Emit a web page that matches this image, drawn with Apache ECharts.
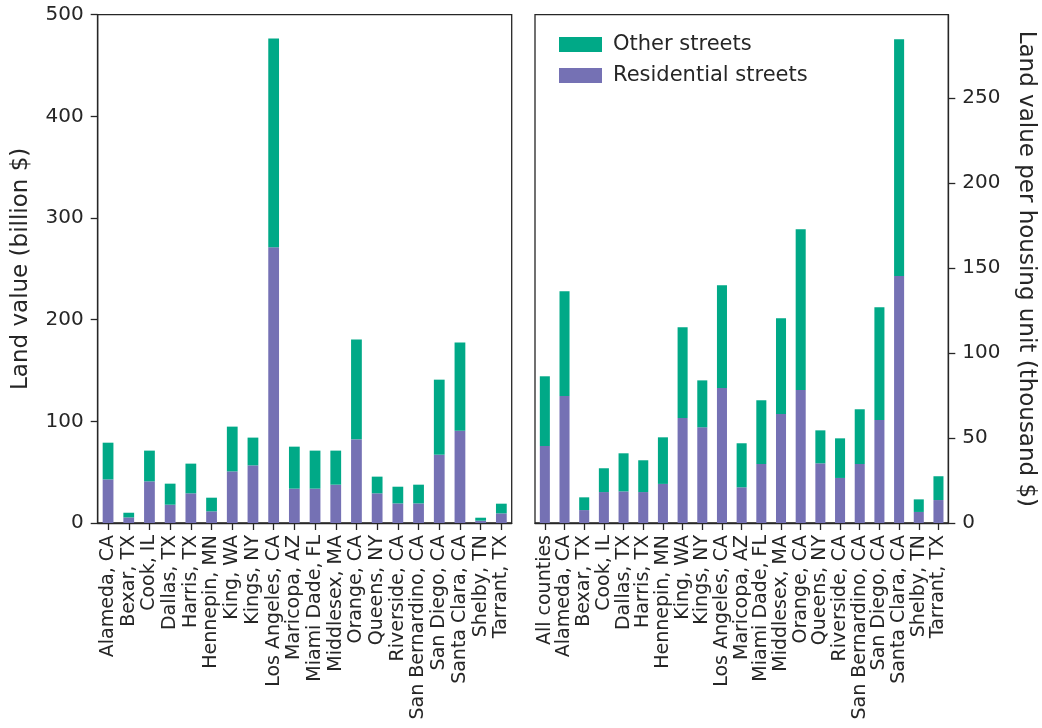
<!DOCTYPE html>
<html>
<head>
<meta charset="utf-8">
<script src="https://cdn.jsdelivr.net/npm/echarts@6/dist/echarts.min.js"></script>
<style>
html,body{margin:0;padding:0;background:#fff;}
#chart{width:1042px;height:728px;}
</style>
</head>
<body>
<div id="chart"></div>
<script>
// Left panel: total land value (billion $)
const leftCategories = ["Alameda, CA","Bexar, TX","Cook, IL","Dallas, TX","Harris, TX","Hennepin, MN","King, WA","Kings, NY","Los Angeles, CA","Maricopa, AZ","Miami Dade, FL","Middlesex, MA","Orange, CA","Queens, NY","Riverside, CA","San Bernardino, CA","San Diego, CA","Santa Clara, CA","Shelby, TN","Tarrant, TX"];
const leftResidential = [42.9, 5.5, 41, 18, 29.2, 11.5, 50.8, 56.7, 271.3, 33.8, 33.8, 37.7, 82.3, 29.2, 19.3, 19.3, 67.2, 90.8, 2.3, 9.5];
const leftTotal = [79, 10.1, 71.2, 38.7, 58.4, 24.9, 94.8, 84, 476.7, 75.1, 71.2, 71.2, 180.4, 45.6, 35.7, 37.7, 141, 177.5, 5.2, 19];

// Right panel: land value per housing unit (thousand $)
const rightCategories = ["All counties","Alameda, CA","Bexar, TX","Cook, IL","Dallas, TX","Harris, TX","Hennepin, MN","King, WA","Kings, NY","Los Angeles, CA","Maricopa, AZ","Miami Dade, FL","Middlesex, MA","Orange, CA","Queens, NY","Riverside, CA","San Bernardino, CA","San Diego, CA","Santa Clara, CA","Shelby, TN","Tarrant, TX"];
const rightResidential = [45.3, 74.7, 7.6, 18.2, 18.6, 18.2, 23, 61.8, 56.3, 79.4, 21, 34.7, 64.1, 78.2, 35.1, 26.5, 34.7, 60.6, 145.3, 6.5, 13.5];
const rightTotal = [86.3, 136.3, 15.1, 32.2, 41, 36.9, 50.4, 115.1, 83.9, 139.8, 46.9, 72.2, 120.4, 172.8, 54.5, 49.8, 66.9, 126.9, 284.5, 13.9, 27.5];

const leftTicks = [0, 100, 200, 300, 400, 500];
const rightTicks = [0, 50, 100, 150, 200, 250];

const seriesNames = ["Other streets", "Residential streets"];
const colOther = "#00a987";
const colRes = "#7571b4";
const dark = "#262626";
const font = "DejaVu Sans";

const leftOther = leftTotal.map((t, i) => +(t - leftResidential[i]).toFixed(2));
const rightOther = rightTotal.map((t, i) => +(t - rightResidential[i]).toFixed(2));

const chart = echarts.init(document.getElementById('chart'), null, {renderer: 'canvas'});

function xAxisCfg(idx, cats) {
  return {
    type: 'category', gridIndex: idx, data: cats,
    axisLine: {show: true, lineStyle: {color: dark, width: 1.3}},
    axisTick: {show: true, alignWithLabel: true, length: 7, lineStyle: {color: dark, width: 1.3}},
    axisLabel: {rotate: 90, interval: 0, margin: 12, fontSize: 19, fontFamily: font, color: dark},
    splitLine: {show: false}
  };
}

const option = {
  animation: false,
  backgroundColor: '#fff',
  textStyle: {fontFamily: font},
  grid: [
    {left: 97.7, right: 530.3, top: 14.7, bottom: 205, show: true, borderColor: dark, borderWidth: 1.3, containLabel: false},
    {left: 535, right: 93.7, top: 14.7, bottom: 205, show: true, borderColor: dark, borderWidth: 1.3, containLabel: false}
  ],
  legend: {
    data: seriesNames,
    orient: 'vertical',
    left: 554, top: 29,
    itemWidth: 43, itemHeight: 15, itemGap: 10,
    textStyle: {fontSize: 21, fontFamily: font, color: dark, padding: [0, 0, 0, 6]},
    icon: 'rect'
  },
  xAxis: [xAxisCfg(0, leftCategories), xAxisCfg(1, rightCategories)],
  yAxis: [
    {
      type: 'value', gridIndex: 0, min: 0, max: 500, interval: 100,
      name: 'Land value (billion $)', nameLocation: 'middle', nameGap: 65, nameRotate: 90,
      nameTextStyle: {fontSize: 23, fontFamily: font, color: dark},
      axisLine: {show: true, lineStyle: {color: dark, width: 1.3}},
      axisTick: {show: true, length: 7, lineStyle: {color: dark, width: 1.3}, customValues: leftTicks},
      axisLabel: {fontSize: 20, fontFamily: font, color: dark, margin: 14, customValues: leftTicks},
      splitLine: {show: false}
    },
    {
      type: 'value', gridIndex: 1, position: 'right', min: 0, max: 299,
      name: 'Land value per housing unit (thousand $)', nameLocation: 'middle', nameGap: 66, nameRotate: -90,
      nameTextStyle: {fontSize: 23, fontFamily: font, color: dark},
      axisLine: {show: true, lineStyle: {color: dark, width: 1.3}},
      axisTick: {show: true, length: 7, lineStyle: {color: dark, width: 1.3}, customValues: rightTicks},
      axisLabel: {fontSize: 20, fontFamily: font, color: dark, margin: 14, customValues: rightTicks},
      splitLine: {show: false}
    }
  ],
  series: [
    {name: seriesNames[1], type: 'bar', stack: 'L', xAxisIndex: 0, yAxisIndex: 0, data: leftResidential, barWidth: '52%', itemStyle: {color: colRes}},
    {name: seriesNames[0], type: 'bar', stack: 'L', xAxisIndex: 0, yAxisIndex: 0, data: leftOther, barWidth: '52%', itemStyle: {color: colOther}},
    {name: seriesNames[1], type: 'bar', stack: 'R', xAxisIndex: 1, yAxisIndex: 1, data: rightResidential, barWidth: '51%', itemStyle: {color: colRes}},
    {name: seriesNames[0], type: 'bar', stack: 'R', xAxisIndex: 1, yAxisIndex: 1, data: rightOther, barWidth: '51%', itemStyle: {color: colOther}}
  ]
};
chart.setOption(option);
</script>
</body>
</html>
